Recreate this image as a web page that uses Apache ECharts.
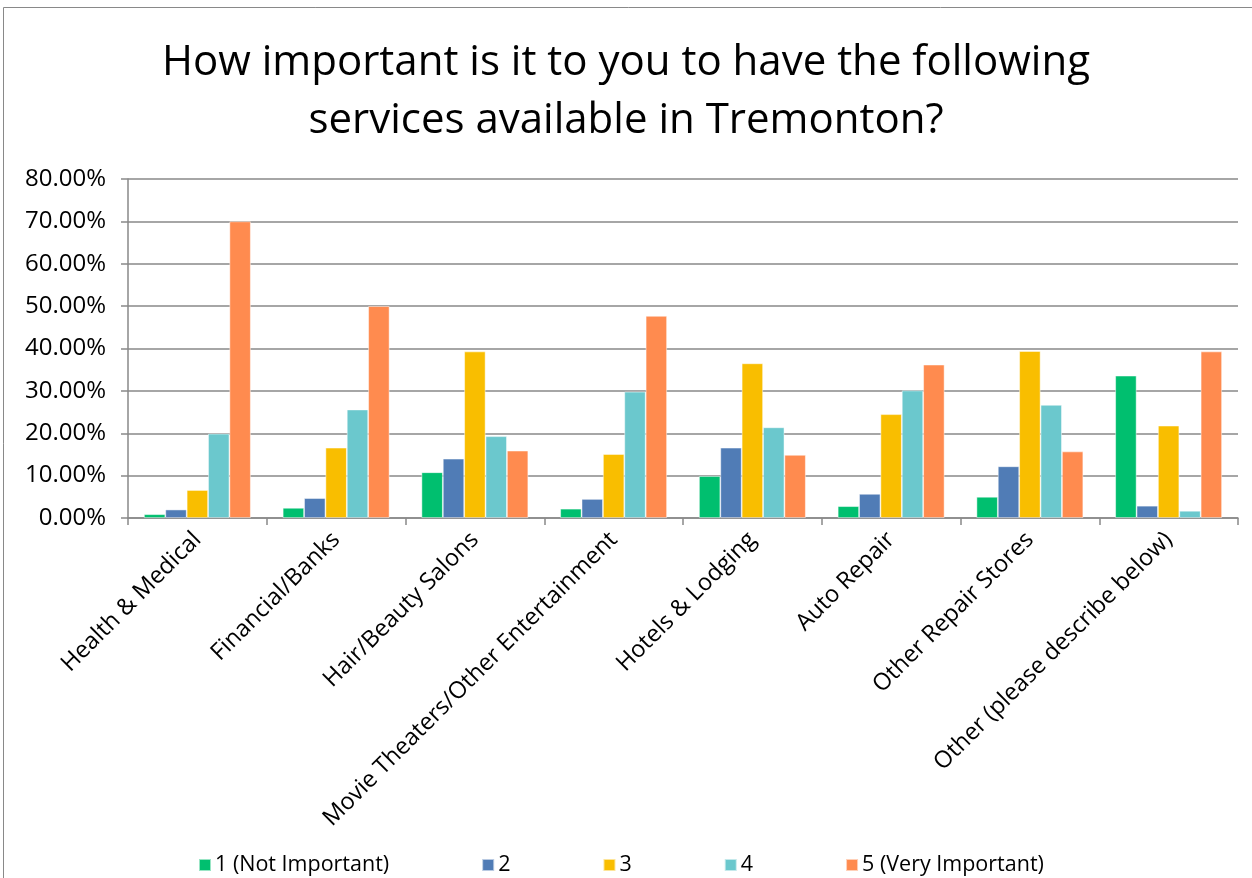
<!DOCTYPE html>
<html>
<head>
<meta charset="utf-8">
<script src="https://cdn.jsdelivr.net/npm/echarts@6/dist/echarts.min.js"></script>
<style>
html,body{margin:0;padding:0;background:#fff;}
#chart{width:1252px;height:878px;}
</style>
</head>
<body>
<div id="chart"></div>
<script>
const categories = ["Health & Medical","Financial/Banks","Hair/Beauty Salons","Movie Theaters/Other Entertainment","Hotels & Lodging","Auto Repair","Other Repair Stores","Other (please describe below)"];
const seriesNames = ["1 (Not Important)","2","3","4","5 (Very Important)"];
const s1 = [0.9, 2.4, 10.8, 2.2, 9.9, 2.8, 5.0, 33.6];
const s2 = [2.0, 4.7, 14.0, 4.5, 16.6, 5.7, 12.2, 2.9];
const s3 = [6.6, 16.6, 39.3, 15.1, 36.5, 24.5, 39.4, 21.8];
const s4 = [19.9, 25.6, 19.3, 29.8, 21.4, 30.1, 26.7, 1.7];
const s5 = [70.0, 50.0, 15.9, 47.7, 14.9, 36.2, 15.7, 39.3];
const colors = ["#00BF6F","#507CB6","#F9BE00","#6BC8CD","#FF8B4F"];
const yTicks = [0,10,20,30,40,50,60,70,80];

const FONT = '"Open Sans", "Liberation Sans", Arial, sans-serif';
const allData = [s1,s2,s3,s4,s5];
const chart = echarts.init(document.getElementById('chart'));
chart.setOption({
  animation:false,
  backgroundColor:'#fff',
  textStyle:{fontFamily:FONT},
  graphic:[{type:'rect',shape:{x:3.5,y:7.5,width:1260,height:880},style:{fill:'none',stroke:'#898989',lineWidth:1},silent:true}],
  title:{
    text:'How important is it to you to have the following\nservices available in Tremonton?',
    left:'center', top:29,
    textStyle:{fontFamily:FONT,fontSize:42,fontWeight:'normal',color:'#000',lineHeight:58}
  },
  legend:{
    data:seriesNames, top:849, left:193,
    itemWidth:12,itemHeight:12,itemGap:92,icon:'rect',
    textStyle:{fontFamily:FONT,fontSize:21.5,color:'#000',padding:[0,0,0,-1]}
  },
  grid:{left:128,right:14,top:179,bottom:360,containLabel:false},
  xAxis:{
    type:'category', data:categories,
    axisLine:{lineStyle:{color:'#898989',width:1.5}},
    axisTick:{show:true,length:7,lineStyle:{color:'#898989',width:1.5}},
    axisLabel:{rotate:45,fontSize:23.5,color:'#000',interval:0,margin:18,fontFamily:FONT}
  },
  yAxis:{
    type:'value', min:0, max:80, interval:10,
    axisLine:{show:true,lineStyle:{color:'#898989',width:1.5}},
    axisTick:{show:true,length:7,lineStyle:{color:'#898989',width:1.5}},
    splitLine:{lineStyle:{color:'#898989',width:1.5}},
    axisLabel:{fontSize:24,color:'#000',margin:22,fontFamily:FONT,formatter:v=>v.toFixed(2)+'%'}
  },
  series: allData.map((d,i)=>({
    name:seriesNames[i], type:'bar', data:d, barGap:'0%', barCategoryGap:'23%',
    itemStyle:{color:colors[i],borderColor:'rgba(255,255,255,0.6)',borderWidth:0.8}
  }))
});
</script>
</body>
</html>
